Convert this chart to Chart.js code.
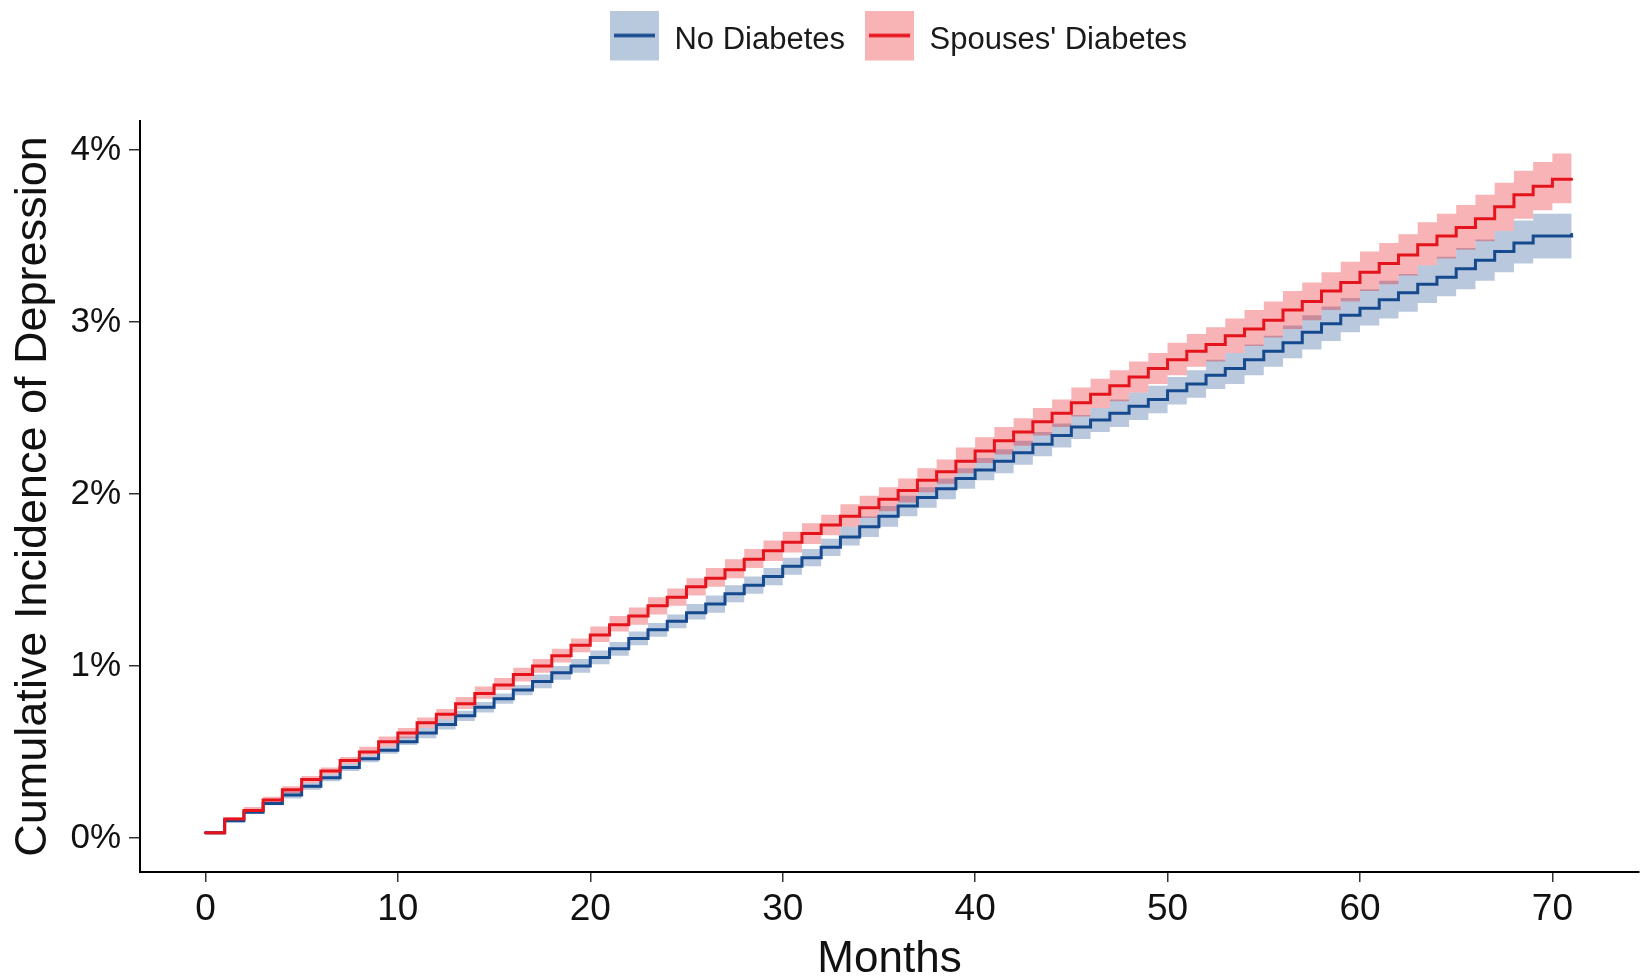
<!DOCTYPE html>
<html>
<head>
<meta charset="utf-8">
<script src="https://cdn.jsdelivr.net/npm/chart.js@4.4.1/dist/chart.umd.min.js"></script>
<style>
  html, body { margin: 0; padding: 0; background: #ffffff; }
  #wrap { width: 1647px; height: 979px; position: relative; }
</style>
</head>
<body>
<div id="wrap"><canvas id="c"></canvas></div>
<script>
// ---- Data (values in %) ----
const months = [0,1,2,3,4,5,6,7,8,9,10,11,12,13,14,15,16,17,18,19,20,21,22,23,24,25,26,27,28,29,30,31,32,33,34,35,36,37,38,39,40,41,42,43,44,45,46,47,48,49,50,51,52,53,54,55,56,57,58,59,60,61,62,63,64,65,66,67,68,69,70,71];

const spouseDiabetes = [0.03,0.11,0.16,0.22,0.28,0.34,0.39,0.45,0.50,0.56,
  0.61,0.67,0.72,0.78,0.84,0.89,0.95,1.00,1.06,1.12,
  1.18,1.24,1.29,1.35,1.40,1.46,1.51,1.56,1.62,1.67,
  1.72,1.77,1.82,1.87,1.92,1.97,2.02,2.08,2.13,2.19,
  2.25,2.31,2.36,2.42,2.47,2.53,2.58,2.63,2.68,2.73,
  2.78,2.83,2.87,2.92,2.96,3.01,3.07,3.12,3.18,3.23,
  3.29,3.34,3.39,3.45,3.50,3.55,3.60,3.67,3.74,3.79,
  3.83,3.83];
const spouseLower = [0.02,0.10,0.15,0.21,0.26,0.32,0.37,0.43,0.48,0.53,
  0.58,0.64,0.69,0.75,0.81,0.86,0.91,0.96,1.02,1.08,
  1.14,1.20,1.24,1.30,1.35,1.41,1.46,1.51,1.57,1.61,
  1.66,1.71,1.76,1.81,1.86,1.90,1.95,2.01,2.06,2.12,
  2.18,2.23,2.28,2.34,2.39,2.45,2.50,2.54,2.59,2.64,
  2.69,2.74,2.77,2.82,2.86,2.91,2.96,3.01,3.07,3.12,
  3.18,3.22,3.27,3.33,3.37,3.42,3.47,3.53,3.60,3.65,
  3.69,3.69];
const spouseUpper = [0.04,0.12,0.18,0.24,0.30,0.36,0.41,0.47,0.53,0.59,
  0.64,0.70,0.75,0.82,0.88,0.93,0.99,1.04,1.10,1.16,
  1.23,1.29,1.34,1.40,1.45,1.51,1.57,1.62,1.68,1.73,
  1.78,1.83,1.88,1.94,1.99,2.04,2.09,2.15,2.20,2.27,
  2.33,2.39,2.44,2.50,2.55,2.62,2.67,2.72,2.77,2.82,
  2.88,2.93,2.97,3.02,3.07,3.12,3.18,3.23,3.29,3.35,
  3.41,3.46,3.51,3.58,3.63,3.68,3.74,3.81,3.88,3.93,
  3.98,3.98];

const noDiabetes = [0.03,0.10,0.15,0.20,0.25,0.30,0.35,0.41,0.46,0.51,
  0.56,0.61,0.66,0.71,0.76,0.81,0.86,0.91,0.96,1.00,
  1.05,1.10,1.16,1.21,1.26,1.31,1.36,1.42,1.47,1.52,
  1.58,1.63,1.69,1.75,1.81,1.87,1.93,1.98,2.03,2.09,
  2.14,2.19,2.24,2.29,2.34,2.39,2.43,2.47,2.51,2.55,
  2.60,2.64,2.69,2.73,2.78,2.83,2.88,2.94,2.99,3.04,
  3.08,3.13,3.17,3.22,3.26,3.31,3.36,3.41,3.46,3.50,
  3.50,3.51];
const noLower = [0.02,0.09,0.14,0.19,0.23,0.28,0.33,0.39,0.44,0.49,
  0.54,0.58,0.63,0.68,0.73,0.78,0.83,0.87,0.92,0.96,
  1.01,1.06,1.12,1.17,1.22,1.27,1.31,1.37,1.42,1.47,
  1.53,1.58,1.64,1.70,1.75,1.81,1.87,1.92,1.97,2.03,
  2.08,2.12,2.17,2.22,2.27,2.32,2.36,2.39,2.43,2.47,
  2.52,2.56,2.61,2.64,2.69,2.74,2.79,2.84,2.89,2.94,
  2.98,3.02,3.06,3.11,3.15,3.19,3.24,3.29,3.34,3.37,
  3.37,3.38];
const noUpper = [0.04,0.11,0.16,0.21,0.27,0.32,0.37,0.43,0.48,0.53,
  0.59,0.64,0.69,0.74,0.79,0.84,0.89,0.95,1.00,1.04,
  1.09,1.14,1.20,1.25,1.30,1.36,1.41,1.47,1.52,1.57,
  1.63,1.68,1.74,1.81,1.87,1.93,1.99,2.04,2.09,2.15,
  2.21,2.26,2.31,2.36,2.41,2.46,2.50,2.55,2.59,2.63,
  2.68,2.72,2.78,2.82,2.87,2.92,2.98,3.04,3.09,3.14,
  3.19,3.24,3.28,3.33,3.38,3.43,3.48,3.53,3.59,3.63,
  3.63,3.64];

const xTicks = [0,10,20,30,40,50,60,70];
const yTicks = [0,1,2,3,4];
const seriesNames = ['No Diabetes', "Spouses' Diabetes"];

// ---- Styles ----
const BLUE = '#164a8e';
const RED = '#e5141c';
const BLUE_BAND = 'rgba(22,74,142,0.30)';
const RED_BAND = 'rgba(229,20,28,0.32)';
const FONT = '"Liberation Sans", Arial, sans-serif';

function pts(arr) { return months.map((m, i) => ({x: m, y: arr[i]})); }

// legend key: filled square with a line through it, drawn a few px above the text centre
function legendKey(fill, line) {
  const c = document.createElement('canvas');
  c.width = 49; c.height = 60;
  const g = c.getContext('2d');
  g.fillStyle = fill; g.fillRect(0, 0, 49, 50);
  g.strokeStyle = line; g.lineWidth = 3.5;
  g.beginPath(); g.moveTo(4, 25); g.lineTo(45, 25); g.stroke();
  return c;
}
const keyBlue = legendKey('#b8c8dd', BLUE);
const keyRed = legendKey('#f8b3b4', RED);

const lineCommon = { stepped: true, pointRadius: 0, pointHoverRadius: 0, fill: false, borderWidth: 3, borderCapStyle: 'round' };
const bandCommon = { stepped: true, pointRadius: 0, pointHoverRadius: 0, borderWidth: 0, borderColor: 'rgba(0,0,0,0)' };

const datasets = [
  Object.assign({ label: seriesNames[1], data: pts(spouseDiabetes), borderColor: RED }, lineCommon),
  Object.assign({ label: seriesNames[0], data: pts(noDiabetes), borderColor: BLUE }, lineCommon),
  Object.assign({ label: 'spouseUpper', data: pts(spouseUpper), fill: '+1', backgroundColor: RED_BAND }, bandCommon),
  Object.assign({ label: 'spouseLower', data: pts(spouseLower), fill: false }, bandCommon),
  Object.assign({ label: 'noUpper', data: pts(noUpper), fill: '+1', backgroundColor: BLUE_BAND }, bandCommon),
  Object.assign({ label: 'noLower', data: pts(noLower), fill: false }, bandCommon)
];

const layoutTweak = {
  id: 'layoutTweak',
  beforeInit(chart) {
    const lg = chart.legend;
    const orig = lg.fit;
    lg.fit = function() { orig.call(this); this.height = 116; };
  },
  afterLayout(chart) {
    chart.legend.left += 9;
    chart.legend.right += 9;
  }
};

new Chart(document.getElementById('c'), {
  type: 'line',
  data: { datasets },
  plugins: [layoutTweak],
  options: {
    responsive: true,
    maintainAspectRatio: false,
    animation: false,
    layout: { padding: { top: 5, left: 0, right: 8, bottom: 0 } },
    plugins: {
      tooltip: { enabled: false },
      legend: {
        position: 'top',
        fullSize: false,
        labels: {
          usePointStyle: true,
          pointStyleWidth: 49,
          boxHeight: 31,
          padding: 20,
          color: '#1a1a1a',
          font: { family: FONT, size: 31 },
          generateLabels() {
            return [
              { text: seriesNames[0], pointStyle: keyBlue, datasetIndex: 1, hidden: false, lineWidth: 0, fontColor: '#1a1a1a' },
              { text: seriesNames[1], pointStyle: keyRed, datasetIndex: 0, hidden: false, lineWidth: 0, fontColor: '#1a1a1a' }
            ];
          }
        }
      }
    },
    scales: {
      x: {
        type: 'linear',
        min: -3.4,
        max: 74.5,
        afterFit(s) { s.height = 107; },
        afterBuildTicks(s) { s.ticks = xTicks.map(v => ({ value: v })); },
        grid: { display: true, drawOnChartArea: false, drawTicks: true, tickLength: 10, color: '#333333', lineWidth: 1.5 },
        border: { display: true, color: '#000000', width: 2 },
        ticks: { color: '#111111', padding: 6, maxRotation: 0, font: { family: FONT, size: 37 }, callback: v => String(v) },
        title: { display: true, text: 'Months', color: '#111111', padding: 0, font: { family: FONT, size: 44, lineHeight: 0.85 } }
      },
      y: {
        type: 'linear',
        min: -0.198,
        max: 4.169,
        afterFit(s) { s.width = 140; },
        afterBuildTicks(s) { s.ticks = yTicks.map(v => ({ value: v })); },
        grid: { display: true, drawOnChartArea: false, drawTicks: true, tickLength: 11, color: '#333333', lineWidth: 1.5 },
        border: { display: true, color: '#000000', width: 2 },
        ticks: { color: '#111111', padding: 8, font: { family: FONT, size: 35 }, callback: v => v + '%' },
        title: { display: true, text: 'Cumulative Incidence of Depression', color: '#111111', padding: { top: 7, bottom: 0 }, font: { family: FONT, size: 45 } }
      }
    }
  }
});
</script>
</body>
</html>
